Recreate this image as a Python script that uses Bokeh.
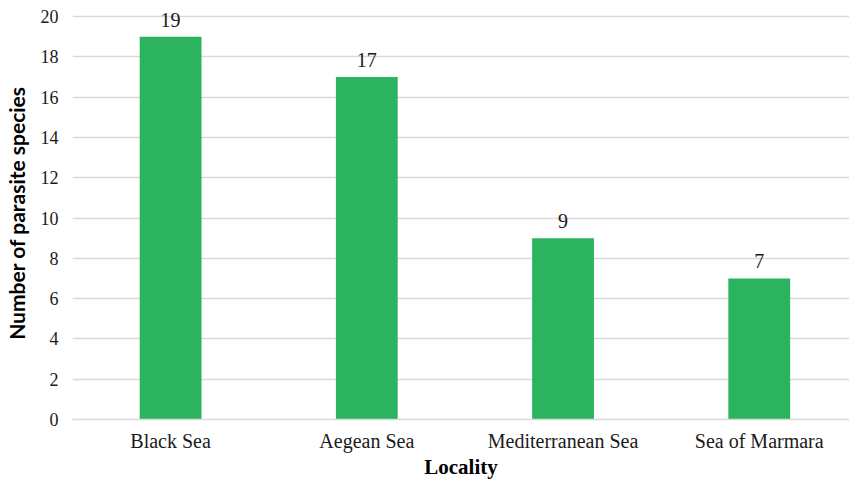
from bokeh.plotting import figure
from bokeh.models import ColumnDataSource, Range1d, FixedTicker, LabelSet
from bokeh.embed import file_html
from bokeh.resources import INLINE

categories = ["Black Sea", "Aegean Sea", "Mediterranean Sea", "Sea of Marmara"]
species_counts = [19, 17, 9, 7]
y_ticks = [0, 2, 4, 6, 8, 10, 12, 14, 16, 18, 20]

positions = [i + 0.5 for i in range(len(categories))]

source = ColumnDataSource(data=dict(
    x=positions,
    count=species_counts,
    label=[str(v) for v in species_counts],
))

p = figure(
    x_range=Range1d(0, 3.96),
    y_range=Range1d(0, 20.5),
    width=849, height=481,
    output_backend="svg",
    toolbar_location=None,
    min_border_left=69, min_border_right=0, min_border_top=6, min_border_bottom=60,
)

p.vbar(x="x", top="count", width=0.315, source=source,
       fill_color="#2BB35F", line_color=None)

labels = LabelSet(x="x", y="count", text="label", source=source,
                  text_align="center", text_baseline="alphabetic", y_offset=10,
                  text_font="Liberation Serif", text_font_size="20px",
                  text_color="#1a1a1a")
p.add_layout(labels)

p.outline_line_color = None
p.xgrid.grid_line_color = None
p.ygrid.grid_line_color = "#D9D9D9"
p.ygrid.grid_line_width = 1.3

p.yaxis.ticker = FixedTicker(ticks=y_ticks)
p.yaxis.axis_line_color = None
p.yaxis.major_tick_line_color = None
p.yaxis.minor_tick_line_color = None
p.yaxis.major_tick_out = 0
p.yaxis.minor_tick_out = 0
p.yaxis.major_label_text_font = "Liberation Serif"
p.yaxis.major_label_text_font_size = "18px"
p.yaxis.major_label_text_color = "#1a1a1a"
p.yaxis.major_label_standoff = 14
p.yaxis.axis_label = "Number of parasite species"
p.yaxis.axis_label_text_font = "Lato"
p.yaxis.axis_label_text_font_style = "bold"
p.yaxis.axis_label_text_font_size = "21px"
p.yaxis.axis_label_text_color = "#000000"
p.yaxis.axis_label_standoff = 9

p.xaxis.ticker = FixedTicker(ticks=positions)
p.xaxis.major_label_overrides = {pos: name for pos, name in zip(positions, categories)}
p.xaxis.axis_line_color = "#D9D9D9"
p.xaxis.axis_line_width = 1.3
p.xaxis.major_tick_line_color = None
p.xaxis.minor_tick_line_color = None
p.xaxis.major_tick_out = 0
p.xaxis.minor_tick_out = 0
p.xaxis.major_label_text_font = "Liberation Serif"
p.xaxis.major_label_text_font_size = "20px"
p.xaxis.major_label_text_color = "#1a1a1a"
p.xaxis.major_label_standoff = 10
p.xaxis.axis_label = "Locality"
p.xaxis.axis_label_text_font = "Liberation Serif"
p.xaxis.axis_label_text_font_style = "bold"
p.xaxis.axis_label_text_font_size = "21px"
p.xaxis.axis_label_text_color = "#000000"
p.xaxis.axis_label_standoff = 0

open("out.html", "w").write(file_html(p, INLINE))
